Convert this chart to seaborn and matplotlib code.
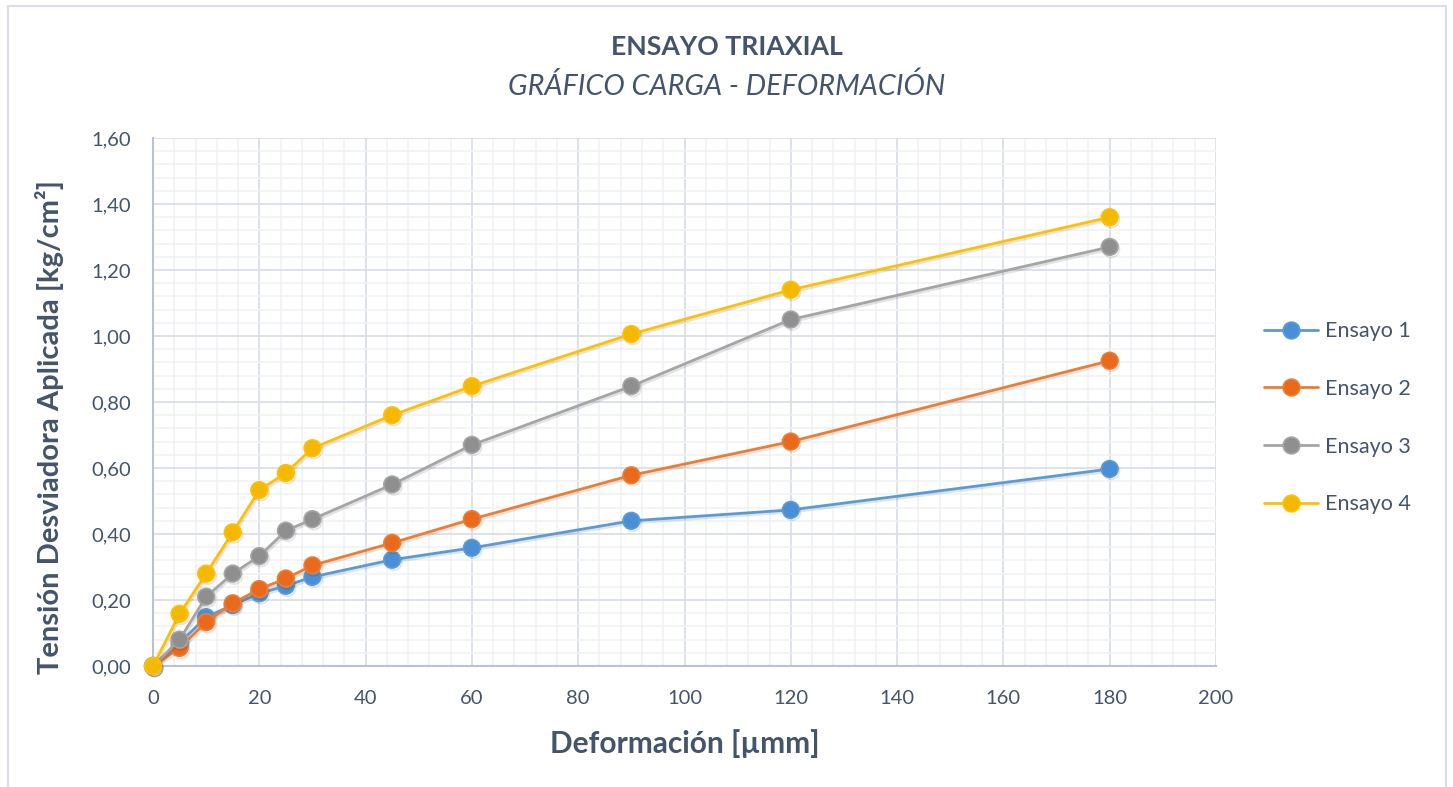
import matplotlib
matplotlib.use("Agg")
import matplotlib.pyplot as plt
import matplotlib.patheffects as pe
from matplotlib.ticker import MultipleLocator, FuncFormatter
import seaborn as sns
import pandas as pd

# ---- data ----
deformacion = [0, 5, 10, 15, 20, 25, 30, 45, 60, 90, 120, 180]
ensayo_1 = [0.00, 0.07, 0.148, 0.185, 0.22, 0.243, 0.27, 0.322, 0.358, 0.44, 0.473, 0.597]
ensayo_2 = [0.00, 0.055, 0.133, 0.19, 0.233, 0.265, 0.305, 0.373, 0.445, 0.578, 0.68, 0.925]
ensayo_3 = [0.00, 0.08, 0.21, 0.28, 0.333, 0.41, 0.445, 0.55, 0.67, 0.848, 1.05, 1.27]
ensayo_4 = [0.00, 0.158, 0.28, 0.405, 0.533, 0.585, 0.66, 0.76, 0.848, 1.006, 1.14, 1.36]
series_names = ["Ensayo 1", "Ensayo 2", "Ensayo 3", "Ensayo 4"]
x_ticks = [0, 20, 40, 60, 80, 100, 120, 140, 160, 180, 200]
y_ticks = [0.0, 0.2, 0.4, 0.6, 0.8, 1.0, 1.2, 1.4, 1.6]

title = "ENSAYO TRIAXIAL"
subtitle = "GRÁFICO CARGA - DEFORMACIÓN"
xlabel = "Deformación [µmm]"
ylabel = "Tensión Desviadora Aplicada [kg/cm²]"

colors = ["#5B9BD5", "#ED7D31", "#A5A5A5", "#FFC000"]
marker_fill = ["#4A8FD6", "#E96A1C", "#8F8F8F", "#F5B800"]
text_color = "#44546A"

sns.set_theme(style="white")
plt.rcParams["font.family"] = ["Lato", "DejaVu Sans"]

frames = []
for name, vals in zip(series_names, [ensayo_1, ensayo_2, ensayo_3, ensayo_4]):
    frames.append(pd.DataFrame({"x": deformacion, "y": vals, "serie": name}))
df = pd.concat(frames, ignore_index=True)

fig = plt.figure(figsize=(14.53, 7.87), dpi=100)
ax = fig.add_axes([153 / 1453, 1 - 666 / 787, (1216 - 153) / 1453, (666 - 138) / 787])

# chart border
border = plt.Rectangle((8 / 1453, -0.02), (1446 - 8) / 1453, 1 - 6 / 787 + 0.02,
                       transform=fig.transFigure, fill=False, edgecolor="#D9DEE8",
                       linewidth=1.5, zorder=-1)
fig.patches.append(border)

for i, name in enumerate(series_names):
    sub = df[df["serie"] == name]
    sns.lineplot(data=sub, x="x", y="y", ax=ax, color=colors[i], linewidth=2,
                 marker="o", markersize=12, markerfacecolor=marker_fill[i],
                 markeredgecolor=colors[i], markeredgewidth=1.2, label=name,
                 zorder=3 + i, clip_on=False)

for line in ax.lines:
    line.set_path_effects([pe.SimpleLineShadow(offset=(1, -1.5), alpha=0.12), pe.Normal()])

ax.set_xlim(0, 200)
ax.set_ylim(0, 1.6)
ax.set_xticks(x_ticks)
ax.set_yticks(y_ticks)
ax.xaxis.set_minor_locator(MultipleLocator(4))
ax.yaxis.set_minor_locator(MultipleLocator(0.04))
ax.yaxis.set_major_formatter(FuncFormatter(lambda v, p: f"{v:.2f}".replace(".", ",")))
ax.grid(which="major", color="#D9DEE8", linewidth=1.3)
ax.grid(which="minor", color="#F0F1F4", linewidth=1.1)
ax.set_axisbelow(True)
for s in ["top", "right"]:
    ax.spines[s].set_visible(False)
for s in ["left", "bottom"]:
    ax.spines[s].set_color("#B8C2D3")
    ax.spines[s].set_linewidth(1.5)
ax.tick_params(axis="both", which="both", length=0, labelsize=14.5, labelcolor=text_color)
ax.tick_params(axis="x", pad=17)
ax.tick_params(axis="y", pad=16)

ax.set_xlabel(xlabel, fontsize=21.5, fontweight="bold", color=text_color, labelpad=16)
ax.set_ylabel(ylabel, fontsize=21, fontweight="bold", color=text_color)
ax.yaxis.set_label_coords(-0.084, 0.453)

fig.text(727 / 1453, 1 - 47 / 787, title, ha="center", va="center", fontsize=19.2,
         fontweight="bold", color=text_color)
fig.text(727 / 1453, 1 - 86 / 787, subtitle, ha="center", va="center", fontsize=20.7,
         fontstyle="italic", color=text_color)

leg = ax.legend(loc="center left", bbox_to_anchor=(1.027, 0.47), frameon=False,
                fontsize=15.5, labelcolor=text_color, labelspacing=1.75,
                handlelength=2.5, handletextpad=0.35)
for h in leg.legend_handles:
    h.set_path_effects([])

fig.savefig("out.png", dpi=100, facecolor="white")
